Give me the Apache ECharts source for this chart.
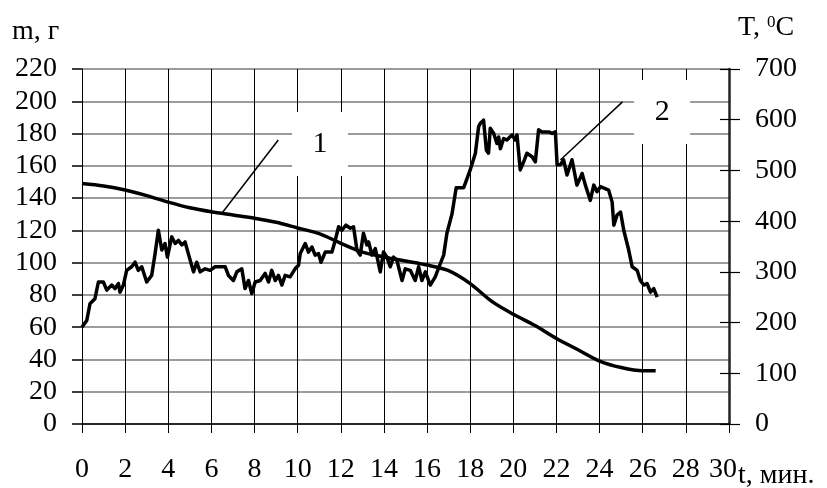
<!DOCTYPE html>
<html>
<head>
<meta charset="utf-8">
<script src="https://cdn.jsdelivr.net/npm/echarts@6/dist/echarts.min.js"></script>
<style>
  html, body { margin: 0; padding: 0; background: #fff; }
  #chart { width: 827px; height: 488px; }
</style>
</head>
<body>
<div id="chart"></div>
<script>
// Time axis (minutes)
const timeMin = 0, timeMax = 30, timeStep = 2;
// Mass axis (g) and temperature axis (°C)
const massMin = 0, massMax = 220, massStep = 20;
const tempMin = 0, tempMax = 700, tempStep = 100;

// Curve 1: sample mass, g
const massTime = [0, 1, 2, 3, 4, 5, 6, 7, 8, 9, 10, 11, 12, 13, 14, 15, 16, 17, 18, 19, 20, 21, 22, 23, 24, 25, 26, 26.6];
const massVals = [149, 147.5, 145, 141.5, 137.5, 134, 131.5, 129.5, 127.5, 125, 121.5, 118, 112, 106.5, 103.5, 101, 98.5, 95, 87, 76, 68, 61, 53, 46, 39, 35, 33, 33];

// Curve 2: temperature, °C
const tempTime = [0, 0.22, 0.37, 0.6, 0.76, 0.99, 1.15, 1.38, 1.53, 1.69, 1.76, 1.92, 2.07, 2.3, 2.46, 2.61, 2.77, 3.0, 3.23, 3.39,
  3.54, 3.7, 3.85, 3.96, 4.16, 4.32, 4.47, 4.63, 4.78, 4.93, 5.17, 5.32, 5.48, 5.71, 5.94, 6.17, 6.64, 6.79, 7.02, 7.18,
  7.41, 7.56, 7.72, 7.87, 8.03, 8.26, 8.49, 8.65, 8.8, 8.96, 9.11, 9.27, 9.42, 9.65, 9.88, 10.04, 10.12, 10.35, 10.5, 10.66,
  10.81, 10.97, 11.08, 11.28, 11.59, 11.74, 11.9, 12.05, 12.24, 12.44, 12.59, 12.75, 12.9, 13.05, 13.21, 13.29, 13.44, 13.6, 13.83, 13.98,
  14.14, 14.29, 14.45, 14.6, 14.84, 14.99, 15.22, 15.45, 15.61, 15.76, 15.92, 16.15, 16.38, 16.61, 16.77, 16.92, 17.08, 17.16, 17.35, 17.7,
  18.0, 18.24, 18.39, 18.47, 18.62, 18.75, 18.85, 18.93, 19.09, 19.24, 19.32, 19.4, 19.55, 19.7, 19.94, 20.09, 20.17, 20.32, 20.48, 20.63,
  20.87, 21.02, 21.17, 21.33, 21.64, 21.8, 21.95, 22.03, 22.18, 22.33, 22.49, 22.72, 22.95, 23.19, 23.34, 23.57, 23.73, 23.88, 24.04, 24.42,
  24.58, 24.66, 24.81, 24.97, 25.12, 25.35, 25.51, 25.74, 25.89, 26.05, 26.2, 26.36, 26.51, 26.67];
const tempVals = [191, 204, 237, 247, 280, 280, 264, 274, 267, 277, 260, 274, 303, 310, 319, 303, 310, 280, 293, 336,
  382, 343, 356, 329, 369, 356, 362, 353, 359, 336, 300, 319, 300, 306, 303, 310, 310, 293, 283, 300,
  306, 267, 283, 257, 280, 283, 297, 280, 303, 283, 293, 274, 293, 290, 306, 313, 336, 356, 339, 349,
  333, 336, 319, 339, 339, 362, 389, 382, 392, 386, 389, 343, 333, 376, 353, 359, 333, 346, 300, 339,
  329, 310, 329, 323, 283, 306, 303, 283, 310, 283, 300, 274, 290, 316, 333, 376, 402, 415, 466, 466,
  501, 534, 586, 593, 599, 540, 534, 583, 573, 553, 566, 543, 563, 560, 570, 560, 570, 501, 517, 534,
  527, 517, 580, 576, 576, 573, 576, 511, 511, 521, 491, 521, 471, 494, 471, 441, 471, 458, 468, 461,
  438, 392, 412, 418, 382, 343, 310, 303, 283, 274, 277, 260, 267, 250];

// Numbered callouts, in (time, mass) coordinates
const callouts = [
  { text: '1', box: [11.04, 173.5], from: [9.1, 176], to: [6.45, 130] },
  { text: '2', box: [26.9, 193.4], from: [25.06, 199.6], to: [22.18, 163.6] }
];

const FONT = 'Liberation Serif';
const zip = (a, b) => a.map((v, i) => [v, b[i]]);

const chart = echarts.init(document.getElementById('chart'), null, { renderer: 'canvas' });

const labelStyle = { fontFamily: FONT, fontSize: 28, color: '#000' };

chart.setOption({
  backgroundColor: '#fff',
  animation: false,
  grid: { left: 82, right: 98, top: 69, bottom: 64 },
  xAxis: {
    type: 'value', min: timeMin, max: timeMax, interval: timeStep,
    axisLine: { lineStyle: { color: '#000', width: 1.5 } },
    axisTick: { length: 9, lineStyle: { color: '#000', width: 1 } },
    axisLabel: Object.assign({
      margin: 32,
      // the last label leans left to leave room for the axis title
      formatter: v => v === timeMax ? '{last|' + v + '}' : String(v),
      rich: { last: { fontFamily: FONT, fontSize: 28, color: '#000', padding: [0, 12, 0, 0] } }
    }, labelStyle),
    splitLine: { show: true, lineStyle: { color: '#000', width: 1 } }
  },
  yAxis: [
    {
      type: 'value', position: 'left', min: massMin, max: massMax, interval: massStep,
      axisLine: { show: true, lineStyle: { color: '#000', width: 1 } },
      axisTick: { show: true, length: 10, lineStyle: { color: '#000', width: 1.5 } },
      axisLabel: Object.assign({ margin: 25 }, labelStyle),
      splitLine: { show: true, lineStyle: { color: '#7a7a7a', width: 1.5 } }
    },
    {
      type: 'value', position: 'right', min: tempMin, max: tempMax, interval: tempStep,
      axisLine: { show: true, lineStyle: { color: '#222', width: 2.5 } },
      axisTick: { show: true, length: 11, lineStyle: { color: '#000', width: 1.2 } },
      axisLabel: Object.assign({ margin: 26 }, labelStyle),
      splitLine: { show: false }
    },
    {
      // inner half of the crossing ticks on the temperature axis
      type: 'value', position: 'right', min: tempMin, max: tempMax, interval: tempStep,
      axisLine: { show: false },
      axisTick: { show: true, inside: true, length: 9, lineStyle: { color: '#000', width: 1.2 } },
      axisLabel: { show: false },
      splitLine: { show: false }
    }
  ],
  series: [
    {
      name: 'm', type: 'line', yAxisIndex: 0, smooth: 0.3, showSymbol: false,
      data: zip(massTime, massVals),
      lineStyle: { color: '#000', width: 3.5 }, z: 5
    },
    {
      name: 'T', type: 'line', yAxisIndex: 1, showSymbol: false,
      data: zip(tempTime, tempVals),
      lineStyle: { color: '#000', width: 3.5, join: 'round' }, z: 5
    }
  ]
});

// Axis titles and numbered callouts
const toPx = p => chart.convertToPixel({ xAxisIndex: 0, yAxisIndex: 0 }, p);
const graphics = [
  { type: 'text', left: 12, top: 18, style: { text: 'm, г', font: '28px "' + FONT + '"', fill: '#000' } },
  { type: 'text', left: 738, top: 14, style: {
      text: 'T, {s|0}C', font: '28px "' + FONT + '"', fill: '#000',
      rich: { s: { fontSize: 17, fontFamily: FONT, verticalAlign: 'top', padding: [0, 0, 10, 0] } }
  } },
  { type: 'text', left: 738, top: 462, style: { text: 't, мин.', font: '28px "' + FONT + '"', fill: '#000' } }
];
callouts.forEach(c => {
  const b = toPx(c.box), f = toPx(c.from), t = toPx(c.to);
  const w = 56, h = 64;
  graphics.push({ type: 'rect', z: 1, shape: { x: b[0] - w / 2, y: b[1] - h / 2, width: w, height: h }, style: { fill: '#fff' } });
  graphics.push({ type: 'line', z: 6, shape: { x1: f[0], y1: f[1], x2: t[0], y2: t[1] }, style: { stroke: '#000', lineWidth: 1.5 } });
  graphics.push({ type: 'text', z: 6, x: b[0], y: b[1], style: { text: c.text, font: '30px "' + FONT + '"', fill: '#000', align: 'center', verticalAlign: 'middle' } });
});
chart.setOption({ graphic: graphics });
</script>
</body>
</html>
